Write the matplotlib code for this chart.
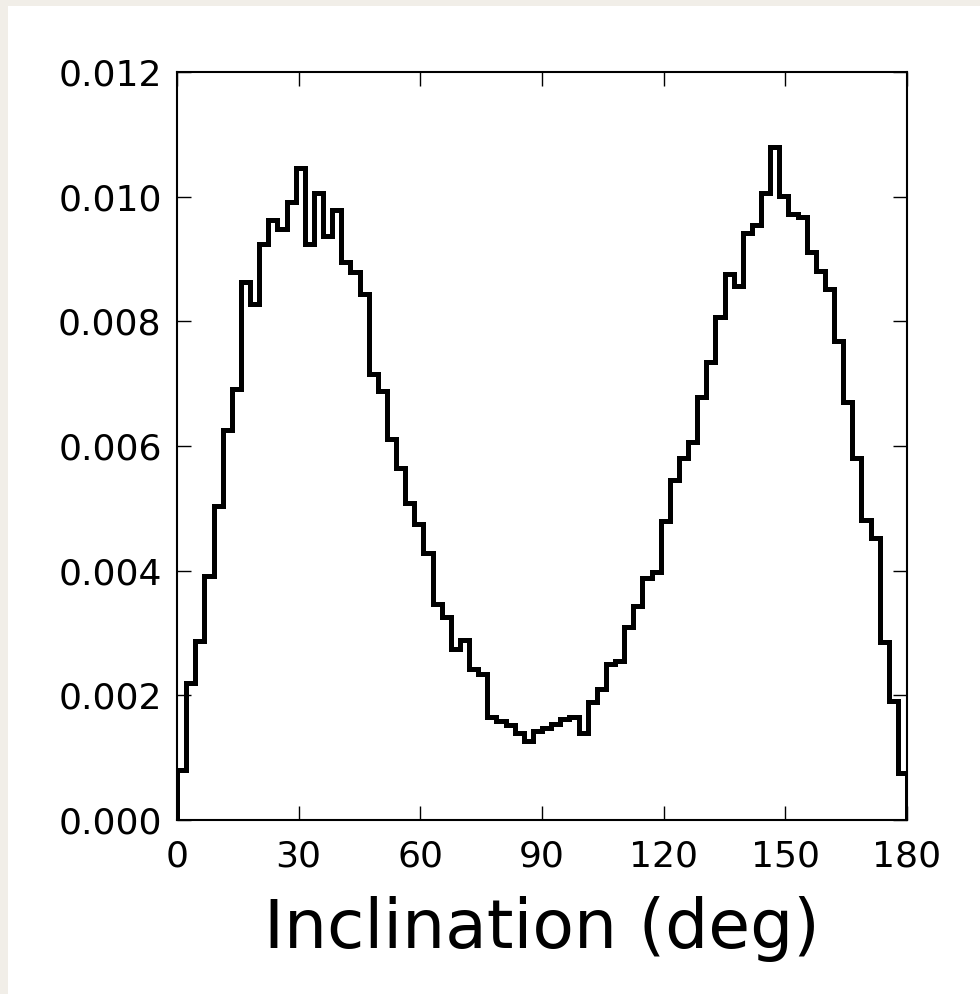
import matplotlib
matplotlib.use('Agg')
import matplotlib.pyplot as plt
import numpy as np
from matplotlib.patches import Rectangle

# histogram of inclinations, 80 bins between 0 and 180 deg (density)
bin_edges = np.linspace(0, 180, 81)
density = [
    0.00081, 0.00220, 0.00287, 0.00391, 0.00503, 0.00626, 0.00691, 0.00863,
    0.00828, 0.00924, 0.00963, 0.00948, 0.00991, 0.01046, 0.00924, 0.01006,
    0.00937, 0.00979, 0.00895, 0.00879, 0.00844, 0.00716, 0.00689, 0.00612,
    0.00564, 0.00509, 0.00475, 0.00428, 0.00347, 0.00326, 0.00274, 0.00288,
    0.00243, 0.00234, 0.00165, 0.00159, 0.00152, 0.00139, 0.00126, 0.00142,
    0.00147, 0.00154, 0.00162, 0.00165, 0.00139, 0.00190, 0.00210, 0.00250,
    0.00255, 0.00310, 0.00343, 0.00388, 0.00398, 0.00479, 0.00545, 0.00580,
    0.00607, 0.00679, 0.00735, 0.00807, 0.00876, 0.00856, 0.00941, 0.00955,
    0.01006, 0.01079, 0.01001, 0.00972, 0.00968, 0.00912, 0.00880, 0.00852,
    0.00768, 0.00670, 0.00581, 0.00482, 0.00452, 0.00285, 0.00191, 0.00075,
]
x_ticks = [0, 30, 60, 90, 120, 150, 180]
y_ticks = [0.000, 0.002, 0.004, 0.006, 0.008, 0.010, 0.012]

fig = plt.figure(figsize=(9.8, 9.94), dpi=100, facecolor='#f1eee8')
# white paper panel with a thin beige frame on the left/top
fig.patches.append(Rectangle((8/980, 0), 1, 1 - 6/994, transform=fig.transFigure,
                             facecolor='white', edgecolor='none', zorder=-5))

ax = fig.add_axes([177/980, 1 - 820/994, 730/980, 748/994])
ax.set_zorder(1)
ax.stairs(density, bin_edges, baseline=0, color='black', linewidth=3.6)

ax.set_xlim(0, 180)
ax.set_ylim(0, 0.012)
ax.set_xticks(x_ticks)
ax.set_yticks(y_ticks)
ax.set_yticklabels(['%.3f' % v for v in y_ticks])
ax.tick_params(direction='in', length=10, width=1, labelsize=26,
               top=True, right=True)
ax.tick_params(axis='x', pad=14)
ax.tick_params(axis='y', pad=11)
for s in ax.spines.values():
    s.set_linewidth(1.5)

ax.set_xlabel('Inclination (deg)', fontsize=49, labelpad=16)

fig.savefig('out.png', dpi=100, facecolor=fig.get_facecolor())
